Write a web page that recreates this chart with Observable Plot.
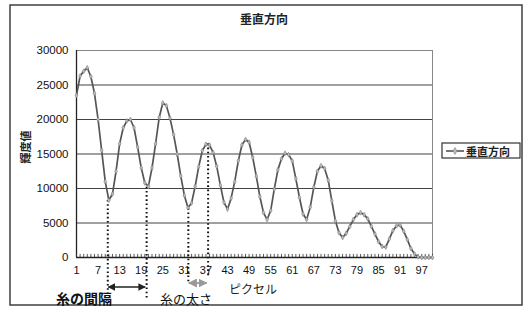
<!DOCTYPE html>
<html>
<head>
<meta charset="utf-8">
<script src="https://cdn.jsdelivr.net/npm/d3@7"></script>
<script src="https://cdn.jsdelivr.net/npm/@observablehq/plot@0.6"></script>
<style>
html,body{margin:0;padding:0;background:#fff;}
svg{display:block;}
</style>
</head>
<body>
<div id="chart"></div>
<script>
// ---- data ----
const pixels = d3.range(1, 101);
const values = [
  23500, 26300, 27000, 27500, 26200, 23800, 20000, 15500, 11000, 8300,
  9200, 12500, 16500, 18800, 19800, 20000, 18800, 16000, 13000, 10800,
  10300, 13000, 16500, 20300, 22400, 22000, 20200, 17800, 15000, 11800,
  9000, 7200, 7900, 10300, 13200, 15500, 16400, 16300, 15200, 13200,
  10500, 8000, 7000, 8600, 11000, 14000, 16300, 17100, 16700, 14500,
  11800, 8800, 6500, 5500, 6800, 9900, 12700, 14300, 15100, 14900,
  14000, 11400, 8700, 6300, 5500, 7300, 10200, 12500, 13300, 12900,
  11200, 8200, 5300, 3600, 2900, 3500, 4500, 5500, 6200, 6500,
  6200, 5600, 4500, 3400, 2300, 1600, 1500, 2700, 3900, 4600,
  4700, 3800, 2600, 1300, 500, 100, 0, 0, 0, 0
];
const xTicks = d3.range(1, 98, 6);
const yTicks = [0, 5000, 10000, 15000, 20000, 25000, 30000];
// annotation guide lines (pixel index, from value, down to value below axis)
const guideX = [9.7, 20.5, 32.1, 37.6];
const guideTop = [8260, 10190, 7060, 16470];
const guideBottom = [-5700, -6000, -3500, -2900];

const title = "垂直方向";
const yLabel = "輝度値";
const xLabel = "ピクセル";
const seriesName = "垂直方向";
const note1 = "糸の間隔";
const note2 = "糸の太さ";

const data = pixels.map((p, i) => ({p, v: values[i]}));
const guides = guideX.map((x, i) => ({x, y1: guideTop[i], y2: guideBottom[i]}));

const W = 528, H = 309;
const font = "'Liberation Sans', Arial, 'Noto Sans CJK JP', sans-serif";
const jfont = "'Noto Sans CJK JP', sans-serif";

const chart = Plot.plot({
  width: W, height: H,
  marginLeft: 76, marginRight: 96, marginTop: 50, marginBottom: 52,
  style: {fontFamily: font, fontSize: "11px", color: "#111", background: "#fff", overflow: "visible"},
  x: {domain: [1, 100], label: null},
  y: {domain: [0, 30000], label: null},
  marks: [
    Plot.frame({stroke: "#888", strokeWidth: 1}),
    Plot.gridY(yTicks.slice(1, -1), {stroke: "#222", strokeOpacity: 0.85, strokeWidth: 1.2}),
    Plot.ruleX([1], {stroke: "#222", strokeWidth: 1.3}),
    Plot.ruleX(pixels, {x: d => d, y1: 0, y2: 450, stroke: "#333", strokeWidth: 0.8}),
    Plot.ruleY([0], {stroke: "#222", strokeWidth: 1.3}),
    Plot.axisY({ticks: yTicks, tickSize: 0, tickPadding: 8, tickFormat: d => String(d), fontSize: 11.5}),
    Plot.axisX({ticks: xTicks, tickSize: 0, tickPadding: 9, tickFormat: d => String(d), fontSize: 11}),
    Plot.ruleX(guides, {x: "x", y1: "y1", y2: "y2", stroke: "#111", strokeWidth: 2, strokeDasharray: "1.6,2.6"}),
    Plot.line(data, {x: "p", y: "v", stroke: "#555", strokeWidth: 1.7}),
    Plot.dot(data, {x: "p", y: "v", r: 1.5, fill: "#bbb", stroke: "#777", strokeWidth: 0.5, symbol: "diamond"})
  ]
});

const svg = d3.select(chart);
const xs = chart.scale("x");

// outer frame
svg.append("rect").attr("x", 10).attr("y", 5).attr("width", 512).attr("height", 300)
  .attr("fill", "none").attr("stroke", "#333").attr("stroke-width", 1.4);

// title
svg.append("text").attr("x", 264).attr("y", 24).attr("text-anchor", "middle")
  .attr("font-family", jfont).attr("font-size", 12).attr("font-weight", "bold").attr("fill", "#222").text(title);

// y label
svg.append("text").attr("transform", "translate(30,147) rotate(-90)").attr("text-anchor", "middle")
  .attr("font-family", jfont).attr("font-size", 11).attr("font-weight", "bold").attr("fill", "#222").text(yLabel);

// x label
svg.append("text").attr("x", 253).attr("y", 294).attr("text-anchor", "middle")
  .attr("font-family", jfont).attr("font-size", 12).attr("fill", "#222").text(xLabel);

// legend
const lg = svg.append("g");
lg.append("rect").attr("x", 442).attr("y", 143).attr("width", 78).attr("height", 15)
  .attr("fill", "#fff").attr("stroke", "#333").attr("stroke-width", 1.2);
lg.append("line").attr("x1", 446).attr("x2", 464).attr("y1", 151).attr("y2", 151)
  .attr("stroke", "#555").attr("stroke-width", 1.6);
lg.append("path").attr("d", d3.symbol(d3.symbolDiamond, 14)()).attr("transform", "translate(455,151)")
  .attr("fill", "#bbb").attr("stroke", "#777").attr("stroke-width", 0.5);
lg.append("text").attr("x", 466).attr("y", 155.5).attr("text-anchor", "start").attr("font-family", jfont).attr("font-size", 11)
  .attr("font-weight", "bold").attr("fill", "#222").text(seriesName);

// arrows
const defs = svg.append("defs");
function marker(id, color) {
  defs.append("marker").attr("id", id).attr("viewBox", "0 0 10 10").attr("refX", 9).attr("refY", 5)
    .attr("markerWidth", 5).attr("markerHeight", 5).attr("orient", "auto-start-reverse")
    .append("path").attr("d", "M0,0 L10,5 L0,10 z").attr("fill", color);
}
marker("ah1", "#222");
marker("ah2", "#999");
svg.append("line").attr("x1", xs.apply(guideX[0]) + 1).attr("x2", xs.apply(guideX[1]) - 1)
  .attr("y1", 287).attr("y2", 287).attr("stroke", "#222").attr("stroke-width", 1.5)
  .attr("marker-start", "url(#ah1)").attr("marker-end", "url(#ah1)");
svg.append("line").attr("x1", xs.apply(guideX[2]) + 1).attr("x2", xs.apply(guideX[3]) - 1)
  .attr("y1", 283).attr("y2", 283).attr("stroke", "#999").attr("stroke-width", 1.8)
  .attr("marker-start", "url(#ah2)").attr("marker-end", "url(#ah2)");

// notes
svg.append("text").attr("x", 84).attr("y", 304).attr("text-anchor", "middle")
  .attr("font-family", jfont).attr("font-size", 14).attr("font-weight", "bold").attr("fill", "#111").text(note1);
svg.append("text").attr("x", 186).attr("y", 304).attr("text-anchor", "middle")
  .attr("font-family", jfont).attr("font-size", 13).attr("fill", "#111").text(note2);

document.getElementById("chart").appendChild(chart);
</script>
</body>
</html>
